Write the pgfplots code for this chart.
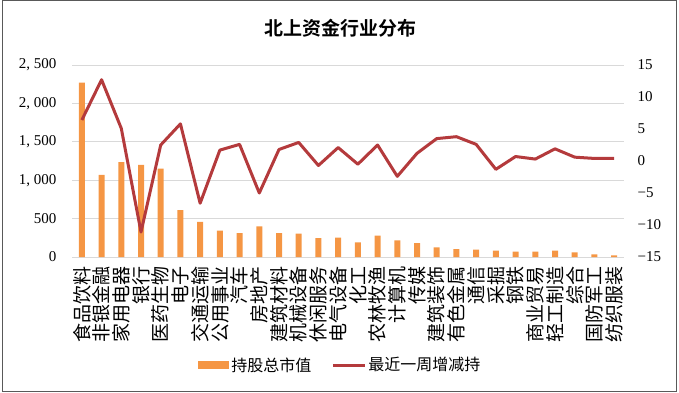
\documentclass[border=0pt]{standalone}
\usepackage{pgfplots}
\pgfplotsset{compat=1.18}
\usepackage{pgfplotstable}
\usepackage{fontspec}
\setmainfont{Liberation Serif}
\newfontfamily\cjk{Noto Sans CJK SC}[BoldFont={* Bold}]
\definecolor{barorange}{RGB}{245,150,68}
\definecolor{linered}{RGB}{180,58,60}
\definecolor{gridgray}{RGB}{217,217,217}

\pgfplotstableread{
idx mv chg
0 2270 6.4
1 1070 12.7
2 1235 5.1
3 1200 -11.1
4 1150 2.5
5 612 5.8
6 456 -6.6
7 343 1.7
8 312 2.6
9 400 -5.0
10 312 1.8
11 304 2.9
12 245 -0.7
13 252 2.1
14 191 -0.5
15 278 2.5
16 217 -2.4
17 182 1.2
18 126 3.5
19 104 3.8
20 95 2.6
21 82 -1.3
22 69 0.7
23 69 0.3
24 82 1.9
25 61 0.6
26 35 0.4
27 22 0.4
}\datatable

\begin{document}
\begin{tikzpicture}[x=1pt,y=1pt]
\path (0,0) rectangle (679,392);
\draw[black!65, line width=1pt] (2.5,1) rectangle (676.5,391);
\node[font=\cjk\bfseries\fontsize{19}{19}\selectfont] at (340,364) {北上资金行业分布};

\begin{axis}[
  at={(72pt,135pt)}, anchor=south west,
  width=552pt, height=192pt, scale only axis,
  xmin=-0.5, xmax=27.5, ymin=0, ymax=2500,
  axis y line*=left, axis x line*=bottom,
  y axis line style={draw=none},
  x axis line style={gridgray, line width=1pt, -},
  ytick={0,500,1000,1500,2000,2500},
  yticklabels={0,500,{1, 000},{1, 500},{2, 000},{2, 500}},
  ymajorgrids, grid style={gridgray, line width=1pt},
  major tick length=0pt,
  /pgf/number format/assume math mode=true,
  yticklabel style={font=\fontsize{15}{15}\selectfont, xshift=-12pt},
  xtick={0,...,27},
  xticklabels={食品饮料,非银金融,家用电器,银行,医药生物,电子,交通运输,公用事业,汽车,房地产,建筑材料,机械设备,休闲服务,电气设备,化工,农林牧渔,计算机,传媒,建筑装饰,有色金属,通信,采掘,钢铁,商业贸易,轻工制造,综合,国防军工,纺织服装},
  xticklabel style={font=\cjk\fontsize{19}{19}\selectfont, rotate=90, anchor=east, inner sep=2pt, xshift=-7pt},
  legend style={draw=none, fill=none, at={(0.486,-0.5625)}, anchor=center,
    legend columns=2, font=\cjk\fontsize{16}{16}\selectfont,
    /tikz/every even column/.append style={column sep=18pt}},
  clip=false,
]
\addplot[ybar, bar width=6pt, fill=barorange, draw=none,
  legend image code/.code={\fill[barorange] (0pt,-4pt) rectangle (31pt,4pt);}]
  table[x=idx, y=mv] {\datatable};
\addlegendentry{持股总市值}
\addlegendimage{linered, line width=3pt, legend image code/.code={\draw[linered, line width=3pt] (0pt,0pt) -- (32pt,0pt);}}
\addlegendentry{最近一周增减持}
\end{axis}

\begin{axis}[
  at={(72pt,135pt)}, anchor=south west,
  width=552pt, height=192pt, scale only axis,
  xmin=-0.5, xmax=27.5, ymin=-15, ymax=15,
  axis y line*=right, axis x line=none,
  y axis line style={draw=none},
  ytick={-15,-10,-5,0,5,10,15},
  yticklabels={−15,−10,−5,0,5,10,15},
  major tick length=0pt,
  /pgf/number format/assume math mode=true,
  yticklabel style={font=\fontsize{15}{15}\selectfont, xshift=10pt},
  clip=false,
]
\addplot[linered, line width=3pt, line join=round, mark=none]
  table[x=idx, y=chg] {\datatable};
\end{axis}
\end{tikzpicture}
\end{document}
